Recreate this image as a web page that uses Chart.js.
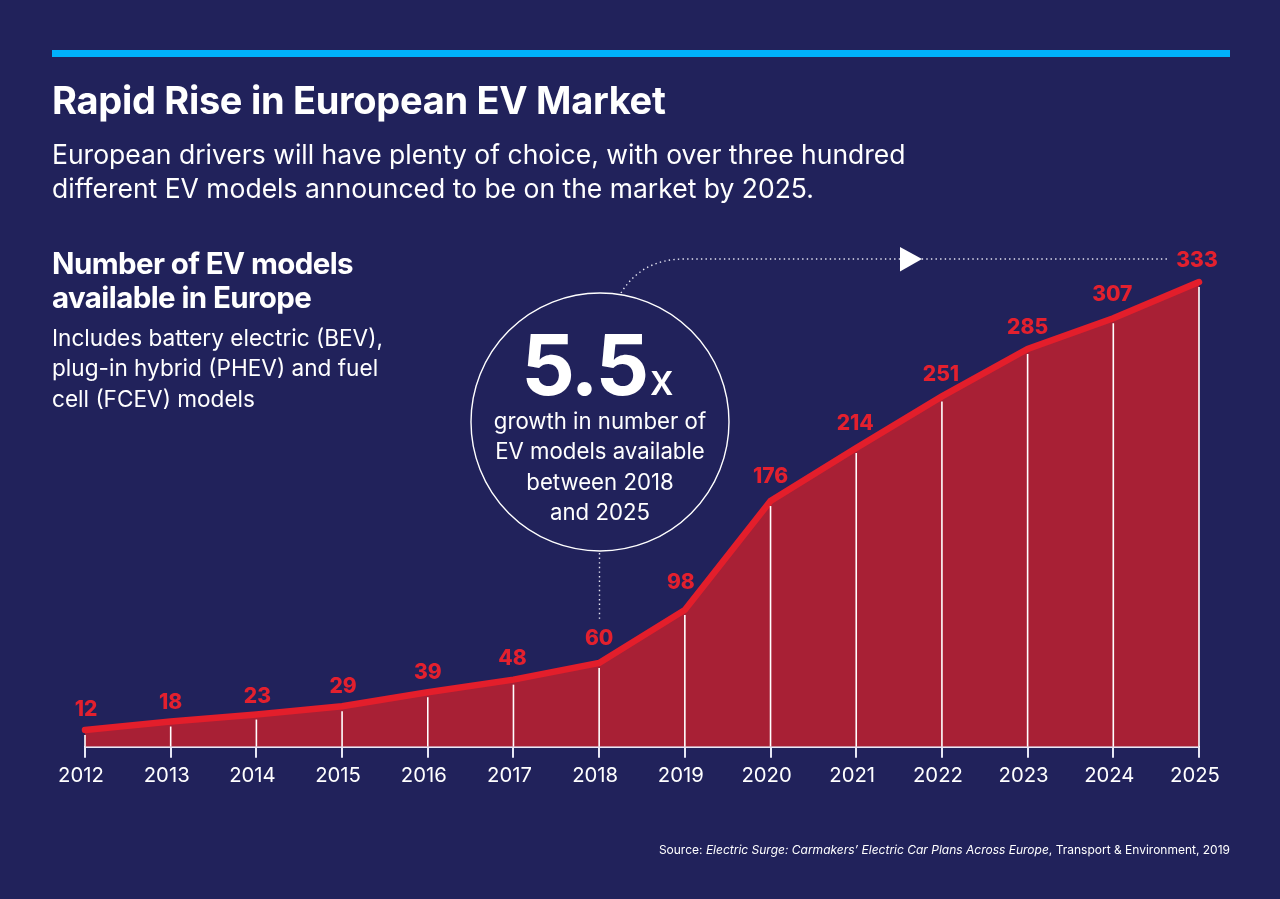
<!DOCTYPE html>
<html><head><meta charset="utf-8">
<script src="https://cdn.jsdelivr.net/npm/chart.js@4"></script>
<style>
html,body{margin:0;padding:0;background:#21225b;}
body{width:1280px;height:899px;overflow:hidden;position:relative;font-family:Inter,sans-serif;color:#fff;}
canvas{position:absolute;left:0;top:0;}
.t{position:absolute;white-space:nowrap;}
#bar{position:absolute;left:52px;top:50px;width:1178px;height:7px;background:#00b1fb;}
</style></head><body>
<canvas id="c" width="1280" height="899"></canvas>
<div id="bar"></div>
<div class="t" style="left:52px;top:78px;font-size:38px;line-height:44px;font-weight:700;letter-spacing:-.3px">Rapid Rise in European EV Market</div>
<div class="t" style="left:52px;top:137px;font-size:26.5px;line-height:34px;font-weight:400;">European drivers will have plenty of choice, with over three hundred<br>different EV models announced to be on the market by 2025.</div>
<div class="t" style="left:52px;top:246px;font-size:29.5px;line-height:34px;font-weight:700;letter-spacing:-.6px">Number of EV models<br>available in Europe</div>
<div class="t" style="left:52px;top:323px;font-size:22.6px;line-height:30.3px;">Includes battery electric (BEV),<br>plug-in hybrid (PHEV) and fuel<br>cell (FCEV) models</div>
<div class="t" style="left:470px;width:260px;top:313px;text-align:center;font-weight:700;font-size:84px;line-height:104px;letter-spacing:-2.5px"><span style="margin-left:-5px">5.5</span><span style="font-size:43px;font-weight:500;letter-spacing:0;margin-left:3px">x</span></div>
<div class="t" style="left:470px;width:260px;top:406px;text-align:center;font-size:22.2px;line-height:30.4px;">growth in number of<br>EV models available<br>between 2018<br>and 2025</div>
<div class="t" style="right:50px;top:842px;font-size:12px;line-height:16px;">Source: <i>Electric Surge: Carmakers’ Electric Car Plans Across Europe</i>, Transport &amp; Environment, 2019</div>
<script>
const years = ['2012','2013','2014','2015','2016','2017','2018','2019','2020','2021','2022','2023','2024','2025'];
const models = [12,18,23,29,39,48,60,98,176,214,251,285,307,333];

const labelNudge = [[1,-20],[0,-19],[1,-18],[1,-19],[0,-20],[-1,-21],[0,-24],[-4,-27],[0,-24],[-1,-24],[-1,-22],[0,-21],[-1,-24],[-2,-21]];

const overlay = {
  id:'overlay',
  afterDatasetsDraw(chart){
    const {ctx,scales:{x,y}} = chart;
    ctx.save();
    ctx.strokeStyle='#fff'; ctx.lineWidth=1.6;
    models.forEach((v,i)=>{
      const px=x.getPixelForValue(i);
      ctx.beginPath(); ctx.moveTo(px,y.getPixelForValue(v)+5); ctx.lineTo(px,y.getPixelForValue(0)); ctx.stroke();
    });
    ctx.restore();
  },
  afterDraw(chart){
    const {ctx,scales:{x,y}} = chart;
    ctx.save();
    ctx.fillStyle='#e3202e'; ctx.font='800 21px Inter, sans-serif';
    ctx.textAlign='center'; ctx.textBaseline='middle';
    models.forEach((v,i)=>{
      ctx.fillText(String(v), x.getPixelForValue(i)+labelNudge[i][0], y.getPixelForValue(v)+labelNudge[i][1]);
    });
    ctx.strokeStyle='#fff'; ctx.lineWidth=1.4;
    ctx.beginPath(); ctx.arc(600,422,129,0,Math.PI*2); ctx.stroke();
    ctx.lineWidth=1.4; ctx.setLineDash([1.4,3.2]); ctx.strokeStyle='#e8e8f4';
    ctx.beginPath(); ctx.moveTo(621,293); ctx.quadraticCurveTo(642,259,684,259); ctx.lineTo(1168,259); ctx.stroke();
    ctx.beginPath(); ctx.moveTo(599.5,553); ctx.lineTo(599.5,619); ctx.stroke();
    ctx.setLineDash([]);
    ctx.fillStyle='#fff';
    ctx.beginPath(); ctx.moveTo(900,247); ctx.lineTo(922,259); ctx.lineTo(900,271.5); ctx.closePath(); ctx.fill();
    ctx.restore();
  }
};

new Chart(document.getElementById('c'),{
  type:'line',
  data:{labels:years,datasets:[{
    data:models,
    borderColor:'#e31e2b',borderWidth:6.5,
    backgroundColor:'#a82035',
    fill:'origin',
    pointRadius:0,tension:0,borderCapStyle:'round',borderJoinStyle:'miter',clip:false
  }]},
  options:{
    responsive:false,animation:false,devicePixelRatio:1,
    layout:{padding:{left:85,right:81,top:282,bottom:105}},
    plugins:{legend:{display:false},tooltip:{enabled:false},title:{display:false}},
    scales:{
      x:{type:'category',offset:false,
         border:{display:true,color:'#e6e7f5',width:2},
         grid:{display:true,drawOnChartArea:false,drawTicks:true,tickLength:11,color:'#e6e7f5',lineWidth:2},
         ticks:{color:'#fff',font:{family:'Inter, sans-serif',size:20.3},maxRotation:0,autoSkip:false,padding:6,labelOffset:-4}},
      y:{display:false,min:0,max:333}
    }
  },
  plugins:[overlay]
});
</script>
</body></html>
